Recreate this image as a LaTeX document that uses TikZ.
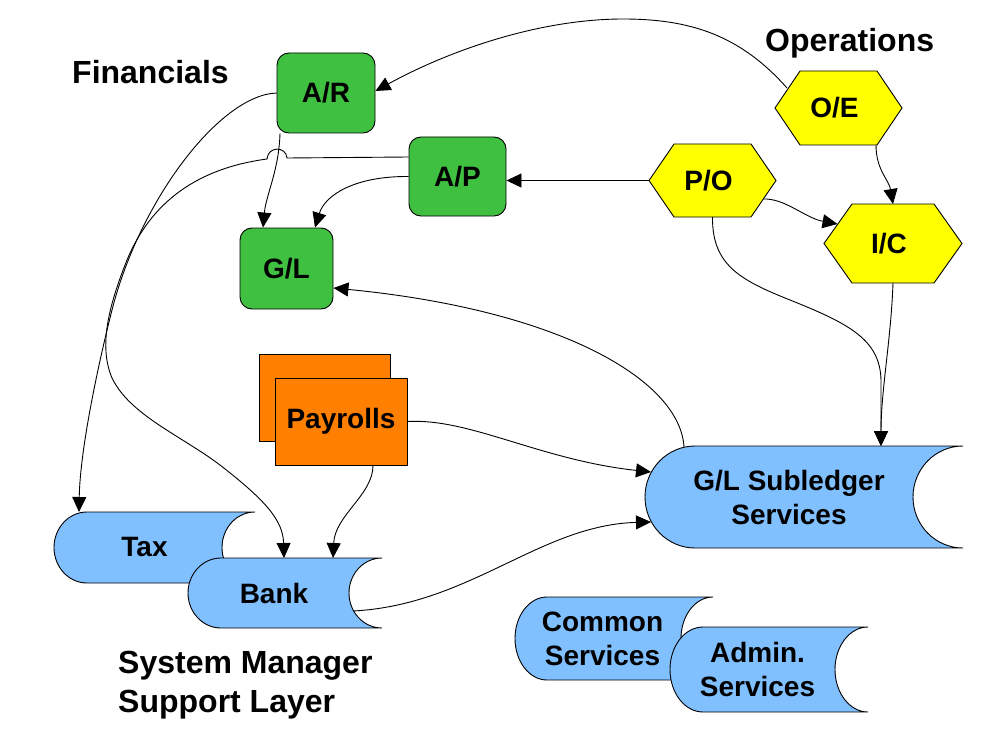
\documentclass[tikz,border=0pt]{standalone}
\usepackage{fontspec}
\setmainfont{Liberation Sans}
\usetikzlibrary{arrows.meta,calc}
\definecolor{fingreen}{RGB}{64,192,64}
\definecolor{opyellow}{RGB}{255,255,0}
\definecolor{payorange}{RGB}{255,128,0}
\definecolor{svcblue}{RGB}{128,192,255}
\tikzset{
  box/.style={draw=black, line width=0.9pt, fill=fingreen, rounded corners=12pt, inner sep=0pt, font=\fontsize{28}{34}\selectfont\bfseries},
  payrect/.style={draw=black, line width=0.9pt, fill=payorange, inner sep=0pt, font=\fontsize{28}{34}\selectfont\bfseries},
  hexfill/.style={draw=black, line width=0.9pt, fill=opyellow},
  storefill/.style={draw=black, line width=0.9pt, fill=svcblue},
  lbl/.style={font=\fontsize{28}{34}\selectfont\bfseries, align=center, inner sep=0pt},
  head/.style={font=\fontsize{32}{39}\selectfont\bfseries, inner sep=0pt, anchor=base west},
  ghost/.style={draw=none, inner sep=0pt, outer sep=0pt},
  conn/.style={line width=0.9pt, -{Triangle[length=15pt,width=14pt]}},
}
% stored-data shape: name, x0, x1, top, bottom, rx, label xshift, label
\newcommand\storeshape[8]{%
  \pgfmathsetmacro\stA{#2+#6}%
  \pgfmathsetmacro\stB{#2+(1-0.5523)*#6}%
  \pgfmathsetmacro\stC{#3-0.5523*#6}%
  \pgfmathsetmacro\stD{#3-#6}%
  \pgfmathsetmacro\stM{(#4+#5)/2}%
  \pgfmathsetmacro\stR{(#5-#4)/2}%
  \pgfmathsetmacro\stU{\stM-0.5523*\stR}%
  \pgfmathsetmacro\stL{\stM+0.5523*\stR}%
  \pgfmathsetmacro\stX{(#2+#3)/2}%
  \pgfmathsetmacro\stW{#3-#2}%
  \pgfmathsetmacro\stH{#5-#4}%
  \draw[storefill] (\stA,#4) -- (#3,#4) .. controls (\stC,#4) and (\stD,\stU) .. (\stD,\stM)
     .. controls (\stD,\stL) and (\stC,#5) .. (#3,#5) -- (\stA,#5)
     .. controls (\stB,#5) and (#2,\stL) .. (#2,\stM) .. controls (#2,\stU) and (\stB,#4) .. cycle;
  \node[ghost, minimum width=\stW pt, minimum height=\stH pt] (#1) at (\stX,\stM) {};
  \node[lbl] (#1-t) at ([xshift=#7pt]#1.center) {#8};
}
% hexagon: name, cx, cy, half width, half height, dx, label
\newcommand\hexshape[7]{%
  \pgfmathsetmacro\hxL{#2-#4}%
  \pgfmathsetmacro\hxR{#2+#4}%
  \pgfmathsetmacro\hxa{#2-#4+#6}%
  \pgfmathsetmacro\hxb{#2+#4-#6}%
  \pgfmathsetmacro\hxT{#3-#5}%
  \pgfmathsetmacro\hxB{#3+#5}%
  \pgfmathsetmacro\hxW{2*#4}%
  \pgfmathsetmacro\hxH{2*#5}%
  \draw[hexfill] (\hxL,#3) -- (\hxa,\hxT) -- (\hxb,\hxT) -- (\hxR,#3) -- (\hxb,\hxB) -- (\hxa,\hxB) -- cycle;
  \node[ghost, minimum width=\hxW pt, minimum height=\hxH pt] (#1) at (#2,#3) {};
  \node[lbl] (#1-t) at ([xshift=-4pt]#1.center) {#7};
}
\begin{document}
\begin{tikzpicture}[x=1pt,y=-1pt]
\useasboundingbox (0,0) rectangle (996,749);

% headings
\node[head] (fin) at (72,84) {Financials};
\node[head] (ops) at (765,52) {Operations};
\node[head] (sm1) at (118,673) {System Manager};
\node[head] (sm2) at (118,712) {Support Layer};

% financial boxes
\node[box, minimum width=98pt, minimum height=80pt] (AR) at (326,93) {A/R};
\node[box, minimum width=97pt, minimum height=79pt] (AP) at (457.5,176.5) {A/P};
\node[box, minimum width=93pt, minimum height=81pt] (GL) at (286.5,268.5) {G/L};

% operations hexagons
\hexshape{OE}{838.5}{108}{63.5}{37}{25}{O/E}
\hexshape{PO}{712.5}{180.5}{63.5}{36.5}{25}{P/O}
\hexshape{IC}{893}{243.5}{69}{39.5}{28}{I/C}

% payrolls
\node[payrect, minimum width=131pt, minimum height=87pt] (PB) at (324.5,397.5) {};
\node[payrect, minimum width=132pt, minimum height=87pt] (PF) at (341,421.5) {Payrolls};

% stored services
\storeshape{Tax}{54}{255}{512}{583}{33}{-10}{Tax}
\storeshape{Bank}{188}{382}{558}{628}{33}{-11}{Bank}
\storeshape{SL}{645}{963}{446}{548}{50}{-15}{G/L Subledger\\Services}
\storeshape{CS}{515}{713}{597}{680}{32}{-11.5}{Common\\Services}
\storeshape{AS}{670}{868}{627}{712}{33}{-11.5}{Admin.\\Services}

% connectors
\draw[conn] ([xshift=-51.5pt,yshift=20pt]OE.center) .. controls (740,35) and (690,19) .. (623,19)
   .. controls (540,19) and (450,50) .. ([yshift=2pt]AR.east);
\draw[conn] (AR.west) .. controls (220,95) and (140,200) .. (112,310)
   .. controls (98,365) and (80,450) .. ([xshift=25pt]Tax.north west);
\draw[conn] ([yshift=19.5pt]AP.west) -- (287,158) .. controls (286,146) and (268,146) .. (267,159)
   .. controls (200,168) and (150,200) .. (125,265)
   .. controls (110,304) and (98,345) .. (112,378)
   .. controls (130,415) and (180,435) .. (220,465)
   .. controls (265,500) and (283,520) .. ([xshift=-1pt]Bank.north);
\draw[conn] ([xshift=-46pt]AR.south) .. controls (279,170) and (266,195) .. ([xshift=-23.5pt]GL.north);
\draw[conn] (AP.west) .. controls (355,176) and (325,195) .. ([xshift=28.5pt]GL.north);
\draw[conn] (PO.west) -- (PO.west -| AP.east);
\draw[conn] ([xshift=50.5pt,yshift=-18.5pt]PO.center) .. controls (785,198) and (805,218) .. ([xshift=-55.5pt,yshift=19.5pt]IC.center);
\draw[conn] ([xshift=37.5pt]OE.south) .. controls (876,170) and (889,180) .. (IC.north);
\draw[conn] (PO.south) .. controls (712,265) and (740,280) .. (790,300)
   .. controls (850,324) and (880,340) .. (881,380) -- ([xshift=77pt]SL.north);
\draw[conn] (IC.south) .. controls (891,340) and (881,390) .. ([xshift=77pt]SL.north);
\draw[conn] ([xshift=-120pt,yshift=50pt]SL.center) .. controls (680,380) and (560,310) .. ([yshift=-19.5pt]GL.east);
\draw[conn] (PF.east) .. controls (470,418) and (540,460) .. ([xshift=-153pt,yshift=25pt]SL.center);
\draw[conn] ([xshift=68pt,yshift=-18pt]Bank.center) .. controls (470,605) and (540,525) .. ([xshift=-153pt,yshift=-25pt]SL.center);
\draw[conn] ([xshift=32pt]PF.south) .. controls (373,495) and (335,515) .. ([xshift=48pt]Bank.north);
\end{tikzpicture}
\end{document}
